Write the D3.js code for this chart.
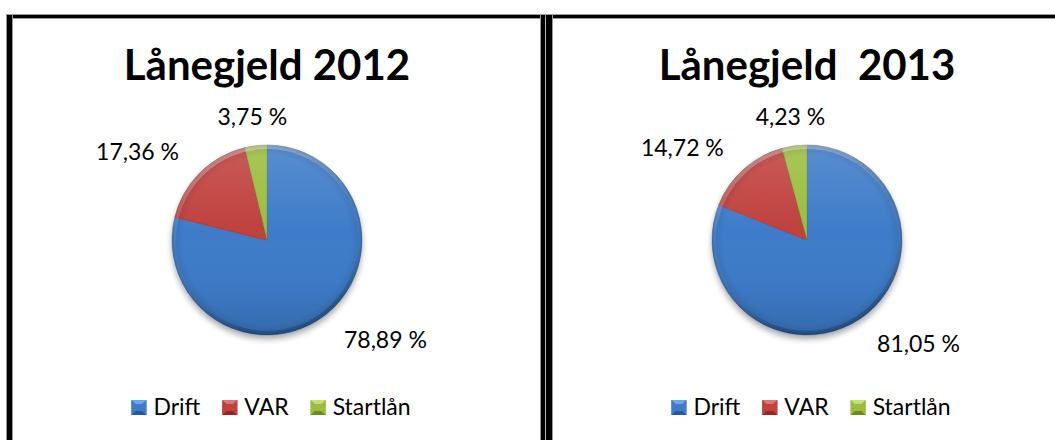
<!DOCTYPE html>
<html>
<head>
<meta charset="utf-8">
<script src="https://cdn.jsdelivr.net/npm/d3@7"></script>
<style>
  html, body { margin: 0; padding: 0; background: #fff; }
  svg { display: block; }
  text { font-family: Lato, "Open Sans", sans-serif; white-space: pre; }
</style>
</head>
<body>
<svg id="chart" width="1055" height="440"></svg>
<script>
// ---- data ----
const categories = ["Drift", "VAR", "Startlån"];
const years = ["2012", "2013"];
const titles = ["Lånegjeld 2012", "Lånegjeld  2013"];
const values2012 = [78.89, 17.36, 3.75];
const values2013 = [81.05, 14.72, 4.23];
const seriesValues = [values2012, values2013];

// ---- styling ----
const colors = ["#3e7cc9", "#c0413e", "#9bbd3d"];
const lightColors = ["#6aa6ec", "#e07471", "#c3e46c"];
const darkColors = ["#2a5796", "#8e2a28", "#6b8a23"];

const W = 1055, H = 440;
const svg = d3.select("#chart");
const defs = svg.append("defs");

// frame lines
const frame = svg.append("g");
frame.append("rect").attr("x", 6).attr("y", 14).attr("width", W - 6).attr("height", 5).attr("fill", "#999");
frame.append("rect").attr("x", 7).attr("y", 15).attr("width", W - 7).attr("height", 3).attr("fill", "#000");
frame.append("rect").attr("x", 6).attr("y", 14).attr("width", 7).attr("height", H).attr("fill", "#999");
frame.append("rect").attr("x", 7).attr("y", 15).attr("width", 5).attr("height", H).attr("fill", "#000");
frame.append("rect").attr("x", 540).attr("y", 14).attr("width", 13).attr("height", H).attr("fill", "#999");
frame.append("rect").attr("x", 541).attr("y", 15).attr("width", 4).attr("height", H).attr("fill", "#000");
frame.append("rect").attr("x", 546).attr("y", 15).attr("width", 6).attr("height", H).attr("fill", "#000");
frame.append("rect").attr("x", 545).attr("y", 18).attr("width", 1).attr("height", H).attr("fill", "#bbb");

// gradients / filters
const shadow = defs.append("filter").attr("id", "shadow").attr("x", "-30%").attr("y", "-30%").attr("width", "160%").attr("height", "160%");
shadow.append("feGaussianBlur").attr("stdDeviation", 3);

const rim = defs.append("radialGradient").attr("id", "rim");
rim.append("stop").attr("offset", "0%").attr("stop-color", "#000").attr("stop-opacity", 0);
rim.append("stop").attr("offset", "88%").attr("stop-color", "#000").attr("stop-opacity", 0);
rim.append("stop").attr("offset", "97%").attr("stop-color", "#000").attr("stop-opacity", 0.08);
rim.append("stop").attr("offset", "100%").attr("stop-color", "#000").attr("stop-opacity", 0.18);

const vshade = defs.append("linearGradient").attr("id", "vshade").attr("x1", 0).attr("y1", 0).attr("x2", 0).attr("y2", 1);
vshade.append("stop").attr("offset", "0%").attr("stop-color", "#fff").attr("stop-opacity", 0.14);
vshade.append("stop").attr("offset", "45%").attr("stop-color", "#fff").attr("stop-opacity", 0);
vshade.append("stop").attr("offset", "75%").attr("stop-color", "#000").attr("stop-opacity", 0.03);
vshade.append("stop").attr("offset", "100%").attr("stop-color", "#000").attr("stop-opacity", 0.14);

const hiRim = defs.append("linearGradient").attr("id", "hiRim").attr("x1", 0).attr("y1", 0).attr("x2", 0.3).attr("y2", 1);
hiRim.append("stop").attr("offset", "0%").attr("stop-color", "#fff").attr("stop-opacity", 0.45);
hiRim.append("stop").attr("offset", "50%").attr("stop-color", "#fff").attr("stop-opacity", 0.05);
hiRim.append("stop").attr("offset", "100%").attr("stop-color", "#000").attr("stop-opacity", 0.25);

// layout
const centerX = d3.scalePoint().domain(years).range([267, 807]);
const cy = 240;
const radius = 95;
const labelR = 125;

const pie = d3.pie().sort(null).value(d => d);
const arc = d3.arc().innerRadius(0).outerRadius(radius);
const fmt = v => d3.format(".2f")(v).replace(".", ",") + " %";

years.forEach((yr, i) => {
  const cx = centerX(yr);
  const g = svg.append("g").attr("transform", `translate(${cx},${cy})`);

  // title
  svg.append("text")
    .attr("x", cx).attr("y", 80)
    .attr("text-anchor", "middle")
    .attr("font-size", 42).attr("font-weight", 700).attr("fill", "#000")
    .text(titles[i]);

  // shadow
  g.append("circle").attr("cx", 0).attr("cy", 4).attr("r", radius)
    .attr("fill", "#000").attr("opacity", 0.35).attr("filter", "url(#shadow)");

  const arcs = pie(seriesValues[i]);
  g.selectAll("path.slice").data(arcs).join("path")
    .attr("class", "slice")
    .attr("d", arc)
    .attr("fill", (d, j) => colors[j])
    .attr("stroke", (d, j) => darkColors[j])
    .attr("stroke-opacity", 0.35)
    .attr("stroke-width", 1);

  // shading overlays
  g.append("circle").attr("r", radius).attr("fill", "url(#vshade)");
  g.append("circle").attr("r", radius).attr("fill", "url(#rim)");
  g.append("circle").attr("r", radius - 2).attr("fill", "none")
    .attr("stroke", "url(#hiRim)").attr("stroke-width", 4).attr("opacity", 0.8);

  // labels
  g.selectAll("text.lbl").data(arcs).join("text")
    .attr("class", "lbl")
    .each(function(d) {
      const a = (d.startAngle + d.endAngle) / 2;
      const s = Math.sin(a), c = -Math.cos(a);
      const anchor = s > 0.3 ? "start" : (s < -0.3 ? "end" : "middle");
      d3.select(this)
        .attr("x", s * labelR).attr("y", c * labelR)
        .attr("text-anchor", anchor)
        .attr("dominant-baseline", "central");
    })
    .attr("font-size", 23).attr("fill", "#000")
    .text(d => fmt(d.data));

  // legend
  const lg = svg.append("g");
  const sq = 15, gapIn = 7, gapOut = 22;
  const items = lg.selectAll("g.item").data(categories).join("g").attr("class", "item");
  items.append("text")
    .attr("font-size", 23).attr("fill", "#000")
    .attr("y", 415)
    .text(d => d);
  const widths = [];
  items.select("text").each(function() { widths.push(this.getComputedTextLength()); });
  const total = d3.sum(widths) + categories.length * (sq + gapIn) + (categories.length - 1) * gapOut;
  let x0 = cx + 4 - total / 2;
  items.each(function(d, j) {
    const it = d3.select(this);
    const sx = x0, sy = 400;
    it.select("text").attr("x", sx + sq + gapIn);
    const tri = (pts, fill) => it.append("path")
      .attr("d", d3.line()(pts) + "Z").attr("fill", fill);
    const m = sq / 2, inset = 4;
    it.append("rect").attr("x", sx).attr("y", sy).attr("width", sq).attr("height", sq).attr("fill", colors[j]);
    tri([[sx, sy], [sx + sq, sy], [sx + m, sy + m]], lightColors[j]);
    tri([[sx, sy + sq], [sx + sq, sy + sq], [sx + m, sy + m]], darkColors[j]);
    tri([[sx, sy], [sx, sy + sq], [sx + m, sy + m]], colors[j]);
    tri([[sx + sq, sy], [sx + sq, sy + sq], [sx + m, sy + m]], colors[j]);
    it.append("rect").attr("x", sx + inset).attr("y", sy + inset).attr("width", sq - 2 * inset).attr("height", sq - 2 * inset)
      .attr("fill", colors[j]);
    x0 += sq + gapIn + widths[j] + gapOut;
  });
});
</script>
</body>
</html>
